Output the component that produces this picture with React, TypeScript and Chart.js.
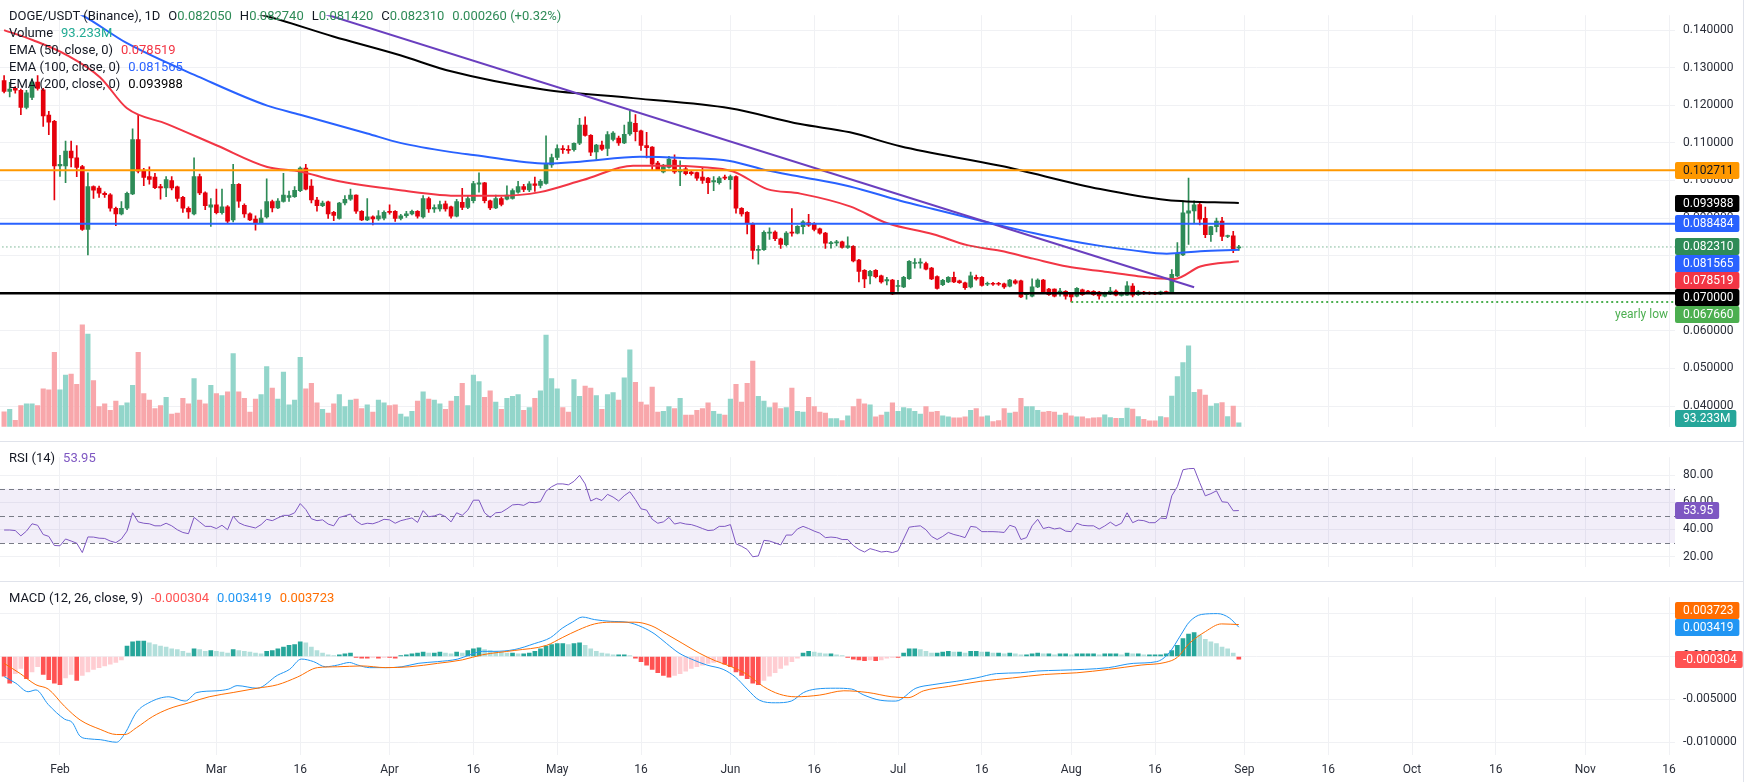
import React, { useEffect, useRef } from "react";
import { Chart, registerables } from "chart.js";

Chart.register(...registerables);

// ---------------- data (day index 0 = Jan 22) ----------------
const tickIdx = [10, 38, 53, 69, 84, 99, 114, 130, 145, 160, 175, 191, 206, 222, 237, 252, 267, 283, 298];
const tickLabels = ["Feb", "Mar", "16", "Apr", "16", "May", "16", "Jun", "16", "Jul", "16", "Aug", "16", "Sep", "16", "Oct", "16", "Nov", "16"];

const opens = [
  0.1266, 0.1237, 0.1245, 0.1240, 0.1194, 0.1221, 0.1262, 0.1241, 0.1174, 0.1157,
  0.1039, 0.1039, 0.1078, 0.1060, 0.1037, 0.0870, 0.0984, 0.0980, 0.0966, 0.0962,
  0.0926, 0.0911, 0.0926, 0.0964, 0.1109, 0.1027, 0.1010, 0.1009, 0.0984, 0.0980,
  0.1000, 0.0983, 0.0955, 0.0926, 0.0911, 0.1010, 0.0967, 0.0929, 0.0935, 0.0914,
  0.0930, 0.0895, 0.0990, 0.0934, 0.0911, 0.0897, 0.0887, 0.0903, 0.0944, 0.0927,
  0.0944, 0.0955, 0.0957, 0.0973, 0.1033, 0.0985, 0.0948, 0.0933, 0.0943, 0.0915,
  0.0899, 0.0940, 0.0950, 0.0961, 0.0918, 0.0895, 0.0903, 0.0898, 0.0900, 0.0918,
  0.0918, 0.0899, 0.0906, 0.0911, 0.0918, 0.0903, 0.0952, 0.0924, 0.0924, 0.0938,
  0.0930, 0.0905, 0.0942, 0.0928, 0.0946, 0.0990, 0.0994, 0.0946, 0.0927, 0.0952,
  0.0950, 0.0952, 0.0969, 0.0984, 0.0975, 0.0991, 0.0987, 0.0992, 0.1041, 0.1061,
  0.1085, 0.1083, 0.1082, 0.1099, 0.1147, 0.1120, 0.1076, 0.1094, 0.1085, 0.1109,
  0.1113, 0.1100, 0.1124, 0.1152, 0.1132, 0.1093, 0.1089, 0.1046, 0.1023, 0.1035,
  0.1054, 0.1023, 0.1031, 0.1022, 0.1021, 0.1009, 0.1006, 0.0996, 0.0994, 0.1009,
  0.1002, 0.1010, 0.0926, 0.0915, 0.0885, 0.0814, 0.0816, 0.0860, 0.0863, 0.0845,
  0.0829, 0.0862, 0.0860, 0.0877, 0.0888, 0.0886, 0.0871, 0.0860, 0.0832, 0.0834,
  0.0837, 0.0822, 0.0825, 0.0788, 0.0761, 0.0746, 0.0761, 0.0746, 0.0733, 0.0735,
  0.0718, 0.0717, 0.0739, 0.0779, 0.0780, 0.0779, 0.0767, 0.0744, 0.0723, 0.0730,
  0.0742, 0.0733, 0.0728, 0.0717, 0.0742, 0.0742, 0.0724, 0.0726, 0.0726, 0.0725,
  0.0719, 0.0733, 0.0733, 0.0696, 0.0692, 0.0717, 0.0735, 0.0711, 0.0711, 0.0703,
  0.0705, 0.0700, 0.0692, 0.0709, 0.0705, 0.0705, 0.0703, 0.0692, 0.0698, 0.0706,
  0.0694, 0.0695, 0.0719, 0.0696, 0.0703, 0.0702, 0.0701, 0.0698, 0.0704, 0.0702,
  0.0746, 0.0802, 0.0913, 0.0919, 0.0936, 0.0899, 0.0856, 0.0877, 0.0892, 0.0851,
  0.0853, 0.08205,
];
const highs = [
  0.1279, 0.1261, 0.1250, 0.1243, 0.1240, 0.1271, 0.1279, 0.1245, 0.1184, 0.1160,
  0.1067, 0.1105, 0.1105, 0.1093, 0.1040, 0.1020, 0.0986, 0.0985, 0.0970, 0.0965,
  0.0929, 0.0944, 0.0969, 0.1137, 0.1175, 0.1032, 0.1036, 0.1019, 0.0990, 0.1010,
  0.1010, 0.0985, 0.0958, 0.0930, 0.1060, 0.1017, 0.0970, 0.0952, 0.0977, 0.0977,
  0.0933, 0.1043, 0.0992, 0.0938, 0.0914, 0.0906, 0.0922, 0.1004, 0.0948, 0.0952,
  0.1019, 0.0972, 0.0984, 0.1036, 0.1043, 0.1002, 0.0955, 0.0945, 0.0945, 0.0918,
  0.0942, 0.0960, 0.0977, 0.0962, 0.0920, 0.0952, 0.0906, 0.0920, 0.0919, 0.0935,
  0.0920, 0.0910, 0.0918, 0.0921, 0.0920, 0.0960, 0.0956, 0.0935, 0.0945, 0.0945,
  0.0932, 0.0950, 0.0979, 0.0958, 0.0998, 0.1020, 0.0995, 0.0948, 0.0961, 0.0956,
  0.0986, 0.0978, 0.0998, 0.0990, 0.0997, 0.1009, 0.1002, 0.1119, 0.1070, 0.1095,
  0.1093, 0.1093, 0.1100, 0.1165, 0.1169, 0.1122, 0.1096, 0.1105, 0.1130, 0.1130,
  0.1118, 0.1147, 0.1185, 0.1175, 0.1134, 0.1128, 0.1090, 0.1051, 0.1043, 0.1064,
  0.1068, 0.1052, 0.1035, 0.1027, 0.1022, 0.1035, 0.1008, 0.1010, 0.1010, 0.1014,
  0.1014, 0.1012, 0.0928, 0.0917, 0.0887, 0.0827, 0.0866, 0.0874, 0.0866, 0.0847,
  0.0864, 0.0925, 0.0880, 0.0893, 0.0910, 0.0888, 0.0873, 0.0862, 0.0838, 0.0841,
  0.0839, 0.0850, 0.0827, 0.0790, 0.0763, 0.0761, 0.0763, 0.0748, 0.0742, 0.0737,
  0.0734, 0.0745, 0.0787, 0.0792, 0.0792, 0.0783, 0.0769, 0.0746, 0.0737, 0.0744,
  0.0756, 0.0735, 0.0730, 0.0756, 0.0748, 0.0744, 0.0730, 0.0729, 0.0729, 0.0727,
  0.0737, 0.0736, 0.0735, 0.0701, 0.0738, 0.0738, 0.0737, 0.0713, 0.0712, 0.0713,
  0.0707, 0.0702, 0.0715, 0.0711, 0.0708, 0.0707, 0.0705, 0.0703, 0.0716, 0.0709,
  0.0703, 0.0731, 0.0726, 0.0707, 0.0705, 0.0704, 0.0703, 0.0706, 0.0706, 0.0763,
  0.0835, 0.0946, 0.1006, 0.0946, 0.0939, 0.0929, 0.0878, 0.0900, 0.0902, 0.0855,
  0.0865, 0.08274,
];
const lows = [
  0.1233, 0.1222, 0.1232, 0.1175, 0.1190, 0.1215, 0.1240, 0.1144, 0.1122, 0.0948,
  0.1011, 0.0994, 0.1036, 0.1010, 0.0867, 0.0802, 0.0952, 0.0955, 0.0955, 0.0918,
  0.0880, 0.0908, 0.0922, 0.0962, 0.1020, 0.0986, 0.0990, 0.0978, 0.0950, 0.0957,
  0.0975, 0.0944, 0.0915, 0.0899, 0.0908, 0.0962, 0.0922, 0.0878, 0.0911, 0.0910,
  0.0886, 0.0890, 0.0928, 0.0902, 0.0893, 0.0868, 0.0885, 0.0900, 0.0916, 0.0925,
  0.0942, 0.0944, 0.0955, 0.0970, 0.0975, 0.0940, 0.0918, 0.0930, 0.0899, 0.0893,
  0.0897, 0.0935, 0.0947, 0.0912, 0.0893, 0.0893, 0.0882, 0.0894, 0.0895, 0.0910,
  0.0891, 0.0895, 0.0902, 0.0908, 0.0900, 0.0900, 0.0915, 0.0915, 0.0918, 0.0918,
  0.0900, 0.0903, 0.0922, 0.0925, 0.0940, 0.0969, 0.0940, 0.0922, 0.0925, 0.0932,
  0.0948, 0.0950, 0.0966, 0.0970, 0.0970, 0.0971, 0.0980, 0.0990, 0.1035, 0.1055,
  0.1072, 0.1072, 0.1078, 0.1095, 0.1118, 0.1066, 0.1056, 0.1080, 0.1066, 0.1105,
  0.1093, 0.1098, 0.1120, 0.1105, 0.1080, 0.1060, 0.1027, 0.1027, 0.1020, 0.1033,
  0.1019, 0.0986, 0.1015, 0.1014, 0.1000, 0.0992, 0.0965, 0.0973, 0.0990, 0.1002,
  0.0977, 0.0913, 0.0905, 0.0858, 0.0791, 0.0777, 0.0814, 0.0843, 0.0840, 0.0819,
  0.0826, 0.0852, 0.0858, 0.0858, 0.0878, 0.0866, 0.0857, 0.0819, 0.0820, 0.0826,
  0.0820, 0.0819, 0.0783, 0.0730, 0.0715, 0.0725, 0.0741, 0.0727, 0.0722, 0.0696,
  0.0705, 0.0715, 0.0737, 0.0767, 0.0767, 0.0762, 0.0736, 0.0711, 0.0720, 0.0728,
  0.0728, 0.0726, 0.0710, 0.0714, 0.0735, 0.0719, 0.0720, 0.0721, 0.0721, 0.0713,
  0.0717, 0.0724, 0.0688, 0.0684, 0.0690, 0.0715, 0.0699, 0.0694, 0.0690, 0.0692,
  0.0684, 0.06766, 0.0690, 0.0694, 0.0700, 0.0694, 0.0684, 0.0690, 0.0696, 0.0693,
  0.0692, 0.0694, 0.0690, 0.0694, 0.0697, 0.0697, 0.0696, 0.0696, 0.0700, 0.0700,
  0.0744, 0.0800, 0.0830, 0.0888, 0.0882, 0.0848, 0.0838, 0.0863, 0.0840, 0.0848,
  0.0808, 0.08142,
];
const closes = [
  0.1237, 0.1243, 0.1240, 0.1194, 0.1233, 0.1262, 0.1245, 0.1172, 0.1155, 0.1039,
  0.1043, 0.1078, 0.1060, 0.1035, 0.0870, 0.0984, 0.0974, 0.0966, 0.0962, 0.0926,
  0.0911, 0.0926, 0.0966, 0.1109, 0.1025, 0.1008, 0.1003, 0.0981, 0.0980, 0.1002,
  0.0980, 0.0952, 0.0926, 0.0916, 0.1010, 0.0967, 0.0933, 0.0935, 0.0914, 0.0930,
  0.0892, 0.0990, 0.0945, 0.0911, 0.0895, 0.0887, 0.0900, 0.0944, 0.0927, 0.0945,
  0.0961, 0.0960, 0.0974, 0.1033, 0.0977, 0.0948, 0.0933, 0.0940, 0.0911, 0.0907,
  0.0940, 0.0950, 0.0961, 0.0918, 0.0895, 0.0903, 0.0898, 0.0906, 0.0915, 0.0915,
  0.0899, 0.0906, 0.0911, 0.0918, 0.0905, 0.0952, 0.0924, 0.0928, 0.0936, 0.0924,
  0.0905, 0.0944, 0.0928, 0.0952, 0.0992, 0.0994, 0.0946, 0.0927, 0.0952, 0.0936,
  0.0961, 0.0973, 0.0984, 0.0976, 0.0991, 0.0987, 0.0998, 0.1043, 0.1061, 0.1085,
  0.1082, 0.1080, 0.1099, 0.1147, 0.1120, 0.1075, 0.1094, 0.1083, 0.1122, 0.1126,
  0.1100, 0.1123, 0.1155, 0.1130, 0.1093, 0.1087, 0.1043, 0.1028, 0.1037, 0.1057,
  0.1023, 0.1028, 0.1018, 0.1018, 0.1006, 0.1000, 0.0994, 0.1000, 0.1006, 0.1006,
  0.1010, 0.0926, 0.0911, 0.0885, 0.0814, 0.0817, 0.0862, 0.0863, 0.0845, 0.0830,
  0.0860, 0.0860, 0.0878, 0.0890, 0.0881, 0.0870, 0.0860, 0.0833, 0.0835, 0.0837,
  0.0822, 0.0826, 0.0786, 0.0758, 0.0738, 0.0758, 0.0744, 0.0730, 0.0736, 0.0698,
  0.0720, 0.0742, 0.0785, 0.0781, 0.0782, 0.0764, 0.0738, 0.0713, 0.0734, 0.0742,
  0.0730, 0.0728, 0.0715, 0.0746, 0.0738, 0.0721, 0.0726, 0.0724, 0.0724, 0.0717,
  0.0735, 0.0727, 0.0690, 0.0698, 0.0717, 0.0735, 0.0701, 0.0696, 0.0692, 0.0705,
  0.0692, 0.0690, 0.0713, 0.0696, 0.0703, 0.0696, 0.0693, 0.0701, 0.0706, 0.0695,
  0.0701, 0.0720, 0.0695, 0.0704, 0.0699, 0.0699, 0.0698, 0.0704, 0.0702, 0.0750,
  0.0806, 0.0914, 0.0919, 0.0935, 0.0897, 0.0856, 0.0877, 0.0892, 0.0851, 0.0853,
  0.0818, 0.08231,
];
// volume in millions
const volumes = [
  347, 406, 152, 493, 536, 536, 493, 883, 861, 1736,
  861, 1209, 1230, 992, 2380, 2163, 1078, 471, 536, 384,
  601, 493, 558, 970, 1736, 775, 623, 427, 493, 688,
  297, 319, 666, 536, 1122, 623, 536, 970, 775, 731,
  818, 1708, 818, 666, 341, 644, 753, 1404, 905, 644,
  1274, 514, 623, 1621, 883, 1013, 558, 406, 319, 536,
  753, 471, 623, 644, 427, 514, 341, 623, 558, 493,
  514, 297, 232, 362, 601, 818, 644, 623, 536, 406,
  601, 710, 1013, 493, 1209, 1057, 688, 840, 579, 406,
  666, 710, 753, 384, 449, 666, 840, 2142, 1122, 883,
  449, 341, 1100, 710, 948, 905, 731, 406, 753, 796,
  623, 1144, 1795, 1035, 579, 514, 927, 341, 362, 471,
  427, 666, 276, 276, 384, 427, 558, 362, 297, 276,
  644, 992, 579, 1013, 1534, 710, 601, 449, 558, 427,
  449, 905, 362, 341, 688, 471, 341, 319, 189, 189,
  145, 254, 471, 644, 536, 514, 232, 276, 341, 558,
  362, 449, 427, 362, 297, 471, 341, 362, 254, 232,
  210, 210, 232, 384, 427, 232, 254, 124, 145, 427,
  319, 341, 666, 471, 471, 384, 341, 362, 341, 276,
  319, 254, 232, 232, 189, 210, 217, 282, 217, 195,
  195, 434, 412, 239, 174, 137, 137, 239, 217, 716,
  1172, 1497, 1888, 803, 868, 738, 484, 543, 564, 239,
  484, 93.233,
];

// EMAs: [day index, value]
const ema50Pts = [
  [0, 0.1400], [5.2, 0.1373], [11.3, 0.1333], [17.2, 0.1274], [22, 0.1192], [29.2, 0.1150], [38.1, 0.1093],
  [47.1, 0.1036], [53, 0.1024], [58.9, 0.1001], [70.9, 0.0974], [81.6, 0.0959], [88.8, 0.0959], [95.9, 0.0969],
  [103.6, 0.1001], [112.6, 0.1039], [118.6, 0.1039], [124.6, 0.1036], [130.5, 0.1024], [136.6, 0.0977],
  [142.5, 0.0965], [151.4, 0.0931], [158.1, 0.0886], [166.3, 0.0857], [172.4, 0.0828], [178.3, 0.0813],
  [184.2, 0.0792], [190.3, 0.0771], [196.2, 0.0759], [202.1, 0.0747], [207, 0.0739], [209.5, 0.0738],
  [214.1, 0.0771], [221, 0.078519],
];
const ema100Pts = [
  [0, 0.1525], [13.9, 0.1440], [22, 0.1365], [35.1, 0.1274], [47.1, 0.1199], [53, 0.1175], [65, 0.1125],
  [70.9, 0.1100], [79.8, 0.1076], [84, 0.1068], [97.2, 0.1045], [103.1, 0.1050], [113.8, 0.1063],
  [121.5, 0.1060], [129.9, 0.1052], [136.5, 0.1027], [142.5, 0.1010], [151.4, 0.0984], [160.4, 0.0946],
  [166.3, 0.0924], [177, 0.0885], [184.2, 0.0860], [190.3, 0.0841], [196.2, 0.0826], [202.1, 0.0814],
  [208.1, 0.0805], [214.1, 0.0812], [221, 0.081565],
];
const ema200Pts = [
  [0, 0.1585], [20, 0.1515], [46.2, 0.1440], [58.9, 0.1383], [70.9, 0.1333], [79.8, 0.1291], [96.5, 0.1242],
  [112.6, 0.1219], [129.9, 0.1192], [142.5, 0.1150], [151.4, 0.1128], [160.4, 0.1091], [178.3, 0.1039],
  [196.2, 0.0977], [208.1, 0.0948], [221, 0.093988],
];
const trendPts = [[40, 0.1524], [213, 0.0716]];
const levelValues = [0.102711, 0.088484, 0.07];
const yearlyLow = 0.06766;
const yearlyLowStart = 191;
const priceTicks = [0.04, 0.05, 0.06, 0.07, 0.08, 0.09, 0.10, 0.11, 0.12, 0.13, 0.14];

const rsiValues = [
  39.6, 39.6, 39.2, 35.3, 38.8, 44.2, 43.1, 36.3, 34.9, 28.2,
  28.0, 33.0, 31.5, 29.9, 23.0, 34.5, 34.4, 33.6, 33.4, 31.5,
  30.3, 33.0, 38.8, 52.3, 45.6, 44.6, 44.2, 42.7, 42.7, 44.6,
  42.7, 39.8, 37.8, 36.9, 48.9, 45.6, 42.3, 42.3, 40.7, 43.1,
  39.8, 49.8, 45.0, 43.1, 42.1, 41.1, 43.6, 47.5, 46.5, 48.5,
  50.4, 50.4, 52.3, 59.1, 54.7, 47.9, 46.5, 47.1, 44.0, 42.7,
  48.9, 50.0, 51.4, 46.2, 43.6, 44.6, 44.2, 45.6, 47.5, 47.1,
  44.6, 46.5, 47.5, 48.5, 45.2, 53.9, 49.4, 50.0, 51.4, 49.4,
  45.6, 52.3, 50.4, 54.3, 61.6, 61.6, 52.3, 48.9, 52.3, 52.7,
  55.2, 58.1, 58.5, 57.8, 60.1, 59.7, 60.5, 68.2, 71.5, 73.6,
  73.6, 72.9, 75.5, 79.9, 73.6, 61.0, 63.0, 61.4, 65.9, 63.9,
  61.0, 64.9, 67.8, 62.0, 55.2, 54.3, 47.5, 44.6, 45.6, 48.9,
  44.0, 45.0, 44.0, 43.6, 42.3, 40.7, 39.2, 39.6, 42.3, 42.3,
  43.6, 29.5, 27.6, 25.3, 19.9, 20.5, 32.0, 31.5, 30.1, 28.6,
  35.9, 35.9, 40.4, 42.3, 40.7, 38.8, 37.3, 34.0, 34.4, 34.0,
  32.6, 32.6, 28.2, 25.3, 23.4, 25.9, 24.7, 23.4, 23.9, 23.0,
  24.3, 33.0, 41.7, 42.3, 42.7, 39.8, 34.9, 32.6, 34.9, 37.8,
  36.3, 35.3, 34.0, 42.3, 41.7, 38.4, 38.4, 38.4, 38.2, 37.8,
  43.1, 41.7, 32.6, 34.0, 42.7, 47.5, 40.7, 41.7, 40.4, 41.1,
  38.8, 38.4, 44.6, 43.1, 42.7, 42.7, 40.3, 42.6, 45.4, 42.6,
  44.6, 52.3, 45.0, 46.9, 46.5, 45.0, 45.0, 48.4, 48.0, 64.8,
  71.6, 84.0, 84.8, 85.0, 74.5, 64.8, 66.4, 68.5, 60.4, 60.0,
  53.8, 53.95,
];
const rsiTicks = [20, 40, 60, 80];
const rsiLevels = [70, 50, 30];

const macdPts = [
  [0, -0.00234], [2.1, -0.00312], [4.3, -0.00411], [5.7, -0.0039], [7.9, -0.0056], [10.8, -0.0073],
  [12.2, -0.0077], [13.6, -0.0093], [15.1, -0.0096], [17.2, -0.0097], [20.1, -0.0100], [21.6, -0.0090],
  [23.7, -0.0065], [25.9, -0.0054], [29.5, -0.0047], [32.4, -0.0052], [34.5, -0.0042], [38.1, -0.0040],
  [40.2, -0.0038], [41.7, -0.0034], [45.3, -0.0037], [48.9, -0.0022], [51.1, -0.0015], [53.2, -0.0003],
  [55.4, -0.0006], [57.5, -0.0012], [59.7, -0.0010], [61.8, -0.0007], [63.3, -0.0010], [65.4, -0.0013],
  [68.3, -0.0013], [71.2, -0.0012], [74.1, -0.0008], [77.6, -0.0006], [81.2, -0.0003], [83.4, 0.0002],
  [85.6, 0.0006], [87.7, 0.0006], [91.3, 0.0008], [94.9, 0.0015], [97.8, 0.0022], [99.9, 0.0033],
  [101.7, 0.0040], [103.5, 0.0046], [105.7, 0.0043], [108.6, 0.0041], [111.5, 0.0040], [114.3, 0.0034],
  [116.5, 0.0026], [118.6, 0.0015], [120.8, 0.0004], [123, -0.0003], [125.8, -0.0010], [128.7, -0.0015],
  [130.9, -0.0024], [133, -0.0038], [135.2, -0.0051], [138.1, -0.0054], [140.9, -0.0052], [143.1, -0.0042],
  [145.3, -0.0038], [148.8, -0.0037], [151.7, -0.0038], [153.9, -0.0045], [156.8, -0.0051], [159.6, -0.0052],
  [163.2, -0.0037], [166.1, -0.0033], [170.4, -0.0029], [174, -0.0025], [177.6, -0.0020], [181.9, -0.0019],
  [184.8, -0.0017], [189.1, -0.0016], [193.4, -0.0015], [197.7, -0.0013], [202.1, -0.0008], [206.3, -0.0006],
  [208.5, 0.0004], [210.7, 0.0026], [212.1, 0.0040], [214.3, 0.0049], [217.2, 0.0050], [219.3, 0.0045],
  [221, 0.003419],
];
const signalPts = [
  [0, -0.0008], [2.9, -0.0020], [5.7, -0.0033], [7.9, -0.0038], [10.8, -0.0058], [13.6, -0.0074],
  [17.2, -0.0085], [20.1, -0.0091], [21.6, -0.0091], [23.7, -0.0083], [26.6, -0.0070], [29.5, -0.0061],
  [33.1, -0.0054], [36.7, -0.0047], [41, -0.0042], [45.3, -0.0037], [48.9, -0.0033], [52.5, -0.0024],
  [56.1, -0.0013], [59.7, -0.0012], [64, -0.0011], [68.3, -0.0013], [72.6, -0.0012], [77.6, -0.0008],
  [82, -0.0004], [85.6, 0.0002], [91.3, 0.0007], [97.1, 0.0013], [99.9, 0.0022], [102.8, 0.0031],
  [105.7, 0.0038], [108.6, 0.0040], [112.9, 0.0040], [115.8, 0.0036], [118.6, 0.0026], [121.5, 0.0015],
  [124.4, 0.0004], [127.3, -0.0005], [130.2, -0.0012], [133, -0.0021], [135.9, -0.0035], [138.8, -0.0044],
  [141.7, -0.0047], [146, -0.0045], [150.3, -0.0040], [154.6, -0.0042], [158.9, -0.0047], [161.8, -0.0048],
  [164.6, -0.0040], [169, -0.0035], [174.7, -0.0029], [180.5, -0.0025], [186.2, -0.0021], [192, -0.0019],
  [197.7, -0.0015], [203.5, -0.0010], [207.8, -0.0007], [210, -0.0001], [212.1, 0.0015], [215, 0.0029],
  [217.9, 0.0038], [221, 0.003723],
];
const histValues = [
  -0.0023, -0.0031, -0.0020, -0.0014, -0.0026, -0.0018, -0.0012, -0.0021, -0.0027, -0.0031,
  -0.0033, -0.0025, -0.0021, -0.0028, -0.0022, -0.0018, -0.0015, -0.0013, -0.0011, -0.0009,
  -0.0007, -0.0004, 0.0012, 0.0017, 0.0018, 0.0018, 0.0016, 0.0014, 0.0012, 0.0011,
  0.0009, 0.0008, 0.0006, 0.0004, 0.0009, 0.0008, 0.0006, 0.0007, 0.0006, 0.0005,
  0.0004, 0.0008, 0.0007, 0.0006, 0.0005, 0.0004, 0.0003, 0.0006, 0.0007, 0.0009,
  0.0011, 0.0013, 0.0014, 0.0017, 0.0016, 0.0011, 0.0007, 0.0004, 0.0002, 0.0001,
  0.0002, 0.0003, 0.0004, -0.0001, -0.0002, -0.0002, -0.0001, -0.0002, -0.0001, -0.0001,
  -0.0002, 0.0001, 0.0002, 0.0003, 0.0004, 0.0005, 0.0004, 0.0004, 0.0005, 0.0004,
  0.0003, 0.0005, 0.0004, 0.0007, 0.0009, 0.0010, 0.0008, 0.0007, 0.0006, 0.0005,
  0.0004, 0.0004, 0.0003, 0.0003, 0.0004, 0.0006, 0.0009, 0.0012, 0.0014, 0.0015,
  0.0015, 0.0014, 0.0015, 0.0016, 0.0013, 0.0009, 0.0006, 0.0004, 0.0003, 0.0002,
  0.0002, 0.0002, 0.0001, -0.0002, -0.0006, -0.0010, -0.0015, -0.0019, -0.0022, -0.0024,
  -0.0022, -0.0020, -0.0017, -0.0014, -0.0012, -0.0010, -0.0008, -0.0007, -0.0006, -0.0009,
  -0.0012, -0.0018, -0.0022, -0.0026, -0.0031, -0.0033, -0.0028, -0.0023, -0.0019, -0.0014,
  -0.0010, -0.0006, -0.0002, 0.0004, 0.0006, 0.0005, 0.0004, 0.0003, 0.0003, 0.0002,
  0.0001, -0.0001, -0.0003, -0.0004, -0.0005, -0.0004, -0.0005, -0.0004, -0.0002, -0.0001,
  -0.0001, 0.0004, 0.0009, 0.0009, 0.0008, 0.0006, 0.0004, 0.0004, 0.0005, 0.0006,
  0.0005, 0.0005, 0.0004, 0.0006, 0.0006, 0.0005, 0.0005, 0.0004, 0.0004, 0.0003,
  0.0004, 0.0003, 0.0002, 0.0002, 0.0003, 0.0004, 0.0003, 0.0003, 0.0002, 0.0003,
  0.0003, 0.0002, 0.0003, 0.0003, 0.0003, 0.0003, 0.0002, 0.0003, 0.0003, 0.0003,
  0.0002, 0.0004, 0.0003, 0.0003, 0.0002, 0.0002, 0.0002, 0.0002, 0.0003, 0.0007,
  0.0013, 0.0021, 0.0026, 0.0028, 0.0025, 0.0020, 0.0017, 0.0015, 0.0011, 0.0009,
  0.0004, -0.000304,
];
const macdTicks = [-0.01, -0.005, 0, 0.005];

// ---------------- styles ----------------
const FONT = "Roboto, 'Noto Sans', 'DejaVu Sans', sans-serif";
const TEXT = "#131722";
const AXIS_TEXT = "#2a2e39";
const GRID = "#f0f1f4";
const UP = "#2e8b57";
const DOWN = "#e5000c";
const VOL_UP = "#92d5ca";
const VOL_DOWN = "#f8a7ab";
const AXIS_W = 71;
const X_MIN = -0.734;
const X_MAX = 299.07;

Chart.defaults.font.family = FONT;
Chart.defaults.font.size = 12;
Chart.defaults.color = AXIS_TEXT;

const pts = (arr: number[][]) => arr.map((p) => ({ x: p[0], y: p[1] }));
const isUp = (i: number) => closes[i] >= opens[i];

function xScale(showLabels: boolean, height: number) {
  return {
    type: "linear",
    min: X_MIN,
    max: X_MAX,
    offset: false,
    grid: { color: GRID, drawTicks: false, offset: false },
    border: { display: false },
    afterBuildTicks: (s: any) => {
      s.ticks = tickIdx.map((v) => ({ value: v }));
    },
    ticks: {
      display: showLabels,
      autoSkip: false,
      maxRotation: 0,
      padding: 8,
      color: AXIS_TEXT,
      font: { size: 12 },
      callback: (_v: any, i: number) => tickLabels[i],
    },
    afterFit: (s: any) => {
      s.height = height;
    },
  };
}

function yScale(min: number, max: number, ticks: number[], fmt: (v: number) => string) {
  return {
    type: "linear",
    position: "right",
    min,
    max,
    grid: { color: GRID, drawTicks: false },
    border: { display: false },
    afterBuildTicks: (s: any) => {
      s.ticks = ticks.map((v) => ({ value: v }));
    },
    ticks: { padding: 8, color: AXIS_TEXT, font: { size: 12 }, callback: (v: any) => fmt(Number(v)) },
    afterFit: (s: any) => {
      s.width = AXIS_W;
    },
  };
}

type Tag = { value: number; text: string; bg: string; fg: string; axis?: string; note?: string; noteColor?: string };

function tagPlugin(id: string, tags: Tag[], dir: number) {
  return {
    id,
    afterDraw(chart: any) {
      const ctx = chart.ctx;
      const area = chart.chartArea;
      const items = tags.map((t) => {
        let y = chart.scales[t.axis || "y"].getPixelForValue(t.value);
        y = Math.max(area.top + 8.5, Math.min(area.bottom - 8.5, y));
        return { ...t, y };
      });
      const sorted = [...items].sort((a, b) => dir * (a.y - b.y));
      for (let i = 1; i < sorted.length; i++) {
        const p = sorted[i - 1];
        const c = sorted[i];
        if (dir > 0 && c.y < p.y + 17) c.y = p.y + 17;
        if (dir < 0 && c.y > p.y - 17) c.y = p.y - 17;
      }
      ctx.save();
      ctx.font = `12px ${FONT}`;
      ctx.textBaseline = "middle";
      for (const it of sorted) {
        const top = Math.round(it.y - 8.5);
        const w = ctx.measureText(it.text).width + 14;
        ctx.fillStyle = it.bg;
        ctx.beginPath();
        ctx.roundRect(area.right, top, w, 17, 2);
        ctx.fill();
        ctx.fillStyle = it.fg;
        ctx.textAlign = "left";
        ctx.fillText(it.text, area.right + 8, top + 9);
        if (it.note) {
          ctx.fillStyle = it.noteColor || it.bg;
          ctx.textAlign = "right";
          ctx.fillText(it.note, area.right - 7, top + 9);
        }
      }
      ctx.restore();
    },
  };
}

const rsiBand = {
  id: "rsiBand",
  beforeDatasetsDraw(chart: any) {
    const ctx = chart.ctx;
    const a = chart.chartArea;
    const y = chart.scales.y;
    const yTop = y.getPixelForValue(rsiLevels[0]);
    const yBot = y.getPixelForValue(rsiLevels[2]);
    ctx.save();
    ctx.fillStyle = "rgba(126, 87, 194, 0.1)";
    ctx.fillRect(a.left, yTop, a.right - a.left, yBot - yTop);
    ctx.strokeStyle = "#787b86";
    ctx.lineWidth = 1;
    ctx.setLineDash([5, 4]);
    for (const lv of rsiLevels) {
      const yy = Math.round(y.getPixelForValue(lv)) + 0.5;
      ctx.beginPath();
      ctx.moveTo(a.left, yy);
      ctx.lineTo(a.right, yy);
      ctx.stroke();
    }
    ctx.restore();
  },
};

const baseOptions = {
  animation: false,
  responsive: false,
  devicePixelRatio: 1,
  events: [],
  layout: { padding: 0 },
  plugins: { legend: { display: false }, tooltip: { enabled: false } },
};

function lineDs(data: any[], color: string, width: number, order: number, extra: any = {}) {
  return {
    type: "line",
    data,
    borderColor: color,
    borderWidth: width,
    pointRadius: 0,
    fill: false,
    order,
    yAxisID: "y",
    ...extra,
  };
}

function mainConfig(): any {
  const idx = closes.map((_, i) => i);
  const candleColors = idx.map((i) => (isUp(i) ? UP : DOWN));
  const last = closes.length - 1;
  const levelColors = ["#ff9800", "#2962ff", "#000000"];
  const levelWidths = [2, 2, 2.5];
  const levelDs = levelValues.map((v, k) =>
    lineDs([{ x: X_MIN - 1, y: v }, { x: X_MAX + 1, y: v }], levelColors[k], levelWidths[k], 1)
  );
  return {
    type: "bar",
    data: {
      datasets: [
        {
          type: "bar",
          data: volumes.map((v, i) => ({ x: i, y: v })),
          yAxisID: "yVol",
          backgroundColor: idx.map((i) => (isUp(i) ? VOL_UP : VOL_DOWN)),
          barThickness: 4.5,
          grouped: false,
          order: 10,
        },
        {
          type: "bar",
          data: idx.map((i) => ({ x: i, y: [lows[i], highs[i]] })),
          yAxisID: "y",
          backgroundColor: candleColors,
          barThickness: 1,
          grouped: false,
          order: 6,
        },
        {
          type: "bar",
          data: idx.map((i) => ({ x: i, y: [Math.min(opens[i], closes[i]), Math.max(opens[i], closes[i])] })),
          yAxisID: "y",
          backgroundColor: candleColors,
          barThickness: 4,
          minBarLength: 1,
          grouped: false,
          order: 5,
        },
        lineDs(pts(ema50Pts), "#f23645", 2, 3, { cubicInterpolationMode: "monotone" }),
        lineDs(pts(ema100Pts), "#2962ff", 2, 3, { cubicInterpolationMode: "monotone" }),
        lineDs(pts(ema200Pts), "#000000", 2, 3, { cubicInterpolationMode: "monotone" }),
        lineDs([{ x: X_MIN - 1, y: closes[last] }, { x: X_MAX + 1, y: closes[last] }], "#2e8b57", 1, 2, { borderDash: [1, 3] }),
        lineDs([{ x: yearlyLowStart, y: yearlyLow }, { x: X_MAX + 1, y: yearlyLow }], "#4caf50", 2, 2, { borderDash: [2, 3] }),
        ...levelDs,
        lineDs(pts(trendPts), "#6a3fbf", 2, 1),
      ],
    },
    options: {
      ...baseOptions,
      scales: {
        x: xScale(false, 0),
        y: yScale(0.03447, 0.14396, priceTicks, (v) => v.toFixed(6)),
        yVol: { type: "linear", display: false, min: 0, max: 9600 },
      },
    },
    plugins: [
      tagPlugin(
        "mainTags",
        [
          { value: levelValues[0], text: levelValues[0].toFixed(6), bg: "#ff9800", fg: "#131722" },
          { value: ema200Pts[ema200Pts.length - 1][1], text: ema200Pts[ema200Pts.length - 1][1].toFixed(6), bg: "#000000", fg: "#ffffff" },
          { value: levelValues[1], text: levelValues[1].toFixed(6), bg: "#2962ff", fg: "#ffffff" },
          { value: closes[last], text: closes[last].toFixed(6), bg: "#2e8b57", fg: "#ffffff" },
          { value: ema100Pts[ema100Pts.length - 1][1], text: ema100Pts[ema100Pts.length - 1][1].toFixed(6), bg: "#2962ff", fg: "#ffffff" },
          { value: ema50Pts[ema50Pts.length - 1][1], text: ema50Pts[ema50Pts.length - 1][1].toFixed(6), bg: "#f23645", fg: "#ffffff" },
          { value: levelValues[2], text: levelValues[2].toFixed(6), bg: "#000000", fg: "#ffffff" },
          { value: yearlyLow, text: yearlyLow.toFixed(6), bg: "#4caf50", fg: "#ffffff", note: "yearly low", noteColor: "#4caf50" },
          { value: volumes[last], text: volumes[last].toFixed(3) + "M", bg: "#26a69a", fg: "#ffffff", axis: "yVol" },
        ],
        1
      ),
    ],
  };
}

function rsiConfig(): any {
  const last = rsiValues.length - 1;
  return {
    type: "line",
    data: {
      datasets: [lineDs(rsiValues.map((v, i) => ({ x: i, y: v })), "#7e57c2", 1, 1)],
    },
    options: {
      ...baseOptions,
      scales: { x: xScale(false, 0), y: yScale(12.5, 93.27, rsiTicks, (v) => v.toFixed(2)) },
    },
    plugins: [
      rsiBand,
      tagPlugin("rsiTags", [{ value: rsiValues[last], text: rsiValues[last].toFixed(2), bg: "#7e57c2", fg: "#ffffff" }], 1),
    ],
  };
}

function macdConfig(): any {
  const colors = histValues.map((h, i) => {
    const prev = i > 0 ? histValues[i - 1] : h;
    if (h >= 0) return h >= prev ? "#26a69a" : "#b2dfdb";
    return h <= prev ? "#ff5252" : "#ffcdd2";
  });
  const last = histValues.length - 1;
  const mLast = macdPts[macdPts.length - 1][1];
  const sLast = signalPts[signalPts.length - 1][1];
  return {
    type: "bar",
    data: {
      datasets: [
        {
          type: "bar",
          data: histValues.map((v, i) => ({ x: i, y: v })),
          backgroundColor: colors,
          barThickness: 4,
          grouped: false,
          order: 5,
          yAxisID: "y",
        },
        lineDs(pts(macdPts), "#2196f3", 1, 2, { cubicInterpolationMode: "monotone" }),
        lineDs(pts(signalPts), "#ff6d00", 1, 1, { cubicInterpolationMode: "monotone" }),
      ],
    },
    options: {
      ...baseOptions,
      scales: { x: xScale(true, 27), y: yScale(-0.011489, 0.006915, macdTicks, (v) => v.toFixed(6)) },
    },
    plugins: [
      tagPlugin(
        "macdTags",
        [
          { value: histValues[last], text: histValues[last].toFixed(6), bg: "#ff5252", fg: "#ffffff" },
          { value: mLast, text: mLast.toFixed(6), bg: "#2196f3", fg: "#ffffff" },
          { value: sLast, text: sLast.toFixed(6), bg: "#ff6d00", fg: "#ffffff" },
        ],
        -1
      ),
    ],
  };
}

const legendRow = (top: number): React.CSSProperties => ({
  position: "absolute",
  left: 9,
  top,
  height: 17,
  lineHeight: "17px",
  fontSize: 13,
  color: TEXT,
  display: "flex",
  gap: 8,
  whiteSpace: "nowrap",
  pointerEvents: "none",
});

export default function App() {
  const mainRef = useRef<HTMLCanvasElement>(null);
  const rsiRef = useRef<HTMLCanvasElement>(null);
  const macdRef = useRef<HTMLCanvasElement>(null);

  useEffect(() => {
    document.body.style.margin = "0";
    const charts = [
      new Chart(mainRef.current as HTMLCanvasElement, mainConfig()),
      new Chart(rsiRef.current as HTMLCanvasElement, rsiConfig()),
      new Chart(macdRef.current as HTMLCanvasElement, macdConfig()),
    ];
    return () => charts.forEach((c) => c.destroy());
  }, []);

  const last = closes.length - 1;
  const change = closes[last] - opens[last];
  const pct = (change / opens[last]) * 100;
  const ema50Last = ema50Pts[ema50Pts.length - 1][1];
  const ema100Last = ema100Pts[ema100Pts.length - 1][1];
  const ema200Last = ema200Pts[ema200Pts.length - 1][1];
  const mLast = macdPts[macdPts.length - 1][1];
  const sLast = signalPts[signalPts.length - 1][1];

  return (
    <div style={{ position: "relative", width: 1746, height: 782, background: "#ffffff", overflow: "hidden", fontFamily: FONT }}>
      <canvas ref={mainRef} width={1746} height={442} style={{ position: "absolute", left: 0, top: 0, width: 1746, height: 442 }} />
      <canvas ref={rsiRef} width={1746} height={140} style={{ position: "absolute", left: 0, top: 442, width: 1746, height: 140 }} />
      <canvas ref={macdRef} width={1746} height={200} style={{ position: "absolute", left: 0, top: 582, width: 1746, height: 200 }} />

      <div style={{ position: "absolute", left: 0, top: 441, width: 1743, height: 1, background: "#e0e3eb" }} />
      <div style={{ position: "absolute", left: 0, top: 581, width: 1743, height: 1, background: "#e0e3eb" }} />
      <div style={{ position: "absolute", left: 1743, top: 0, width: 1, height: 782, background: "#e0e3eb" }} />

      <div style={legendRow(7)}>
        <span>DOGE/USDT (Binance), 1D</span>
        <span>O<span style={{ color: UP }}>{opens[last].toFixed(6)}</span></span>
        <span>H<span style={{ color: UP }}>{highs[last].toFixed(6)}</span></span>
        <span>L<span style={{ color: UP }}>{lows[last].toFixed(6)}</span></span>
        <span>C<span style={{ color: UP }}>{closes[last].toFixed(6)}</span></span>
        <span style={{ color: UP }}>{change.toFixed(6)} (+{pct.toFixed(2)}%)</span>
      </div>
      <div style={legendRow(24)}>
        <span>Volume</span>
        <span style={{ color: "#22ab94" }}>{volumes[last].toFixed(3)}M</span>
      </div>
      <div style={legendRow(41)}>
        <span>EMA (50, close, 0)</span>
        <span style={{ color: "#f23645" }}>{ema50Last.toFixed(6)}</span>
      </div>
      <div style={legendRow(58)}>
        <span>EMA (100, close, 0)</span>
        <span style={{ color: "#2962ff" }}>{ema100Last.toFixed(6)}</span>
      </div>
      <div style={legendRow(75)}>
        <span>EMA (200, close, 0)</span>
        <span style={{ color: "#000000" }}>{ema200Last.toFixed(6)}</span>
      </div>

      <div style={legendRow(449)}>
        <span>RSI (14)</span>
        <span style={{ color: "#7e57c2" }}>{rsiValues[rsiValues.length - 1].toFixed(2)}</span>
      </div>
      <div style={legendRow(589)}>
        <span>MACD (12, 26, close, 9)</span>
        <span style={{ color: "#ff5252" }}>{histValues[histValues.length - 1].toFixed(6)}</span>
        <span style={{ color: "#2196f3" }}>{mLast.toFixed(6)}</span>
        <span style={{ color: "#ff6d00" }}>{sLast.toFixed(6)}</span>
      </div>
    </div>
  );
}
